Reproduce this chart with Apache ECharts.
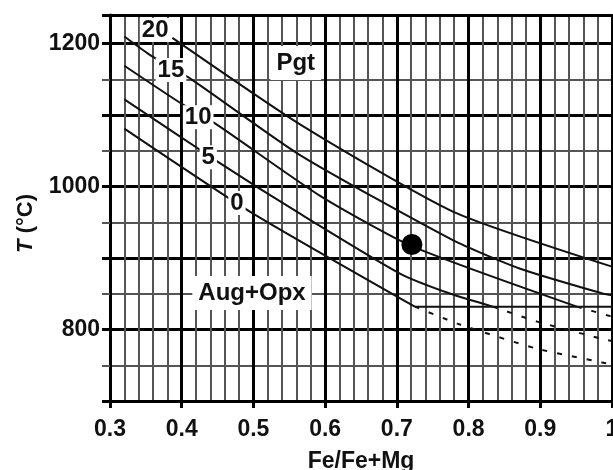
<!DOCTYPE html>
<html>
<head>
<meta charset="utf-8">
<script src="https://cdn.jsdelivr.net/npm/echarts@6/dist/echarts.min.js"></script>
<style>
html, body { margin: 0; padding: 0; background: #fff; }
#chart { width: 613px; height: 470px; }
</style>
</head>
<body>
<div id="chart"></div>
<script>
// isopleths (labelled 0..20) as [Fe/Fe+Mg, T]
const line0 = [[0.32, 1081], [0.495, 965], [0.725, 832]]
const line5 = [[0.32, 1122], [0.45, 1035], [0.565, 962], [0.705, 878], [0.775, 850], [0.834, 832]]
const line10 = [[0.32, 1169], [0.395, 1119], [0.447, 1088], [0.593, 987], [0.72, 917], [0.951, 832]]
const line15 = [[0.32, 1210], [0.359, 1182], [0.412, 1151], [0.565, 1044], [0.778, 925], [0.872, 885], [0.988, 850], [1.0, 848]]
const line20 = [[0.387, 1208], [0.565, 1087], [0.778, 965], [1.0, 888]]
const boundary = [[0.725, 832], [1.0, 832]]
const dashed0 = [[0.725, 832], [0.788, 807], [0.896, 773], [0.986, 754], [1.0, 751]]
const dashed5 = [[0.834, 832], [0.896, 811], [0.986, 787], [1.0, 784]]
const dashed10 = [[0.951, 832], [0.993, 820], [1.0, 818]]
const sample = [[0.721, 919]]

const isoNames = ['20', '15', '10', '5', '0']
const isoNameAt = [[0.363, 1219], [0.385, 1163], [0.423, 1097], [0.437, 1041], [0.477, 977]]
const fieldNames = ['Pgt', 'Aug+Opx']
const fieldNameAt = [[0.559, 1173], [0.498, 851]]

const yLabels = [800, 1000, 1200]

const font = "'Liberation Sans', Arial, sans-serif"
const chart = echarts.init(document.getElementById('chart'))

const curve = (data, dashed) => ({
  type: 'line',
  data: data,
  xAxisIndex: 1,
  yAxisIndex: 1,
  symbol: 'none',
  smooth: 0.2,
  lineStyle: { color: '#111', width: 2, type: dashed ? [5, 10] : 'solid' },
  z: 3
})

const textSeries = (names, at, pad) => ({
  type: 'scatter',
  xAxisIndex: 1,
  yAxisIndex: 1,
  data: at.map((p, i) => ({ value: p, name: names[i] })),
  symbolSize: 1,
  itemStyle: { color: 'rgba(0,0,0,0)', opacity: 1 },
  label: {
    show: true,
    position: 'inside',
    formatter: (p) => p.name,
    color: '#111',
    opacity: 1,
    fontFamily: font,
    fontWeight: 'bold',
    fontSize: 24,
    backgroundColor: '#fff',
    padding: pad
  },
  emphasis: { disabled: true },
  labelLayout: { hideOverlap: false },
  z: 6
})

const option = {
  animation: false,
  grid: { left: 110, right: 1, top: 15, bottom: 69, outerBoundsMode: 'none', containLabel: false },
  xAxis: [
    {
      // minor verticals every 0.02, also draws the top border
      type: 'value', min: 0.3, max: 1.0, interval: 0.02, position: 'top',
      axisLine: { show: true, lineStyle: { color: '#000', width: 3 } },
      axisTick: { show: false },
      axisLabel: { show: false },
      splitLine: { show: true, lineStyle: { color: '#555', width: 2 } }
    },
    {
      type: 'value', min: 0.3, max: 1.0, interval: 0.1, position: 'bottom',
      axisLine: { show: true, onZero: false, lineStyle: { color: '#000', width: 3 } },
      axisTick: { show: true, length: 7, lineStyle: { color: '#000', width: 3 } },
      axisLabel: {
        margin: 17, color: '#111', fontFamily: font, fontWeight: 'bold', fontSize: 23
      },
      splitLine: { show: true, lineStyle: { color: '#000', width: 3 } },
      name: 'Fe/Fe+Mg',
      nameLocation: 'middle',
      nameGap: 49,
      nameTextStyle: { color: '#111', fontFamily: font, fontWeight: 'bold', fontSize: 23 }
    }
  ],
  yAxis: [
    {
      type: 'value', min: 700, max: 1240, interval: 50, position: 'left',
      axisLine: { show: false },
      axisTick: { show: true, length: 8, lineStyle: { color: '#555', width: 2 } },
      axisLabel: { show: false },
      splitLine: { show: true, lineStyle: { color: '#555', width: 2 } }
    },
    {
      type: 'value', min: 700, max: 1240, interval: 100, position: 'left',
      axisLine: { show: true, onZero: false, lineStyle: { color: '#000', width: 3 } },
      axisTick: { show: true, length: 8, lineStyle: { color: '#000', width: 3 } },
      axisLabel: {
        margin: 10, color: '#111', fontFamily: font, fontWeight: 'bold', fontSize: 23,
        formatter: (v) => (yLabels.includes(v) ? String(v) : '')
      },
      splitLine: { show: true, lineStyle: { color: '#000', width: 3 } }
    }
  ],
  graphic: [
    {
      type: 'text',
      left: 15,
      top: 194,
      rotation: Math.PI / 2,
      style: {
        text: '{i|T} (°C)',
        fill: '#111',
        font: 'bold 22px ' + font,
        rich: { i: { fontStyle: 'italic', fontWeight: 'bold', fontSize: 22, fontFamily: font } }
      }
    }
  ],
  series: [
    curve(line0), curve(line5), curve(line10), curve(line15), curve(line20),
    curve(boundary),
    curve(dashed0, true), curve(dashed5, true), curve(dashed10, true),
    {
      type: 'scatter',
      xAxisIndex: 1,
      yAxisIndex: 1,
      data: sample,
      symbolSize: 21,
      itemStyle: { color: '#000', opacity: 1 },
      z: 5
    },
    textSeries(isoNames, isoNameAt, [0, 2]),
    textSeries(fieldNames, fieldNameAt, [5, 6])
  ]
}

chart.setOption(option)
</script>
</body>
</html>
